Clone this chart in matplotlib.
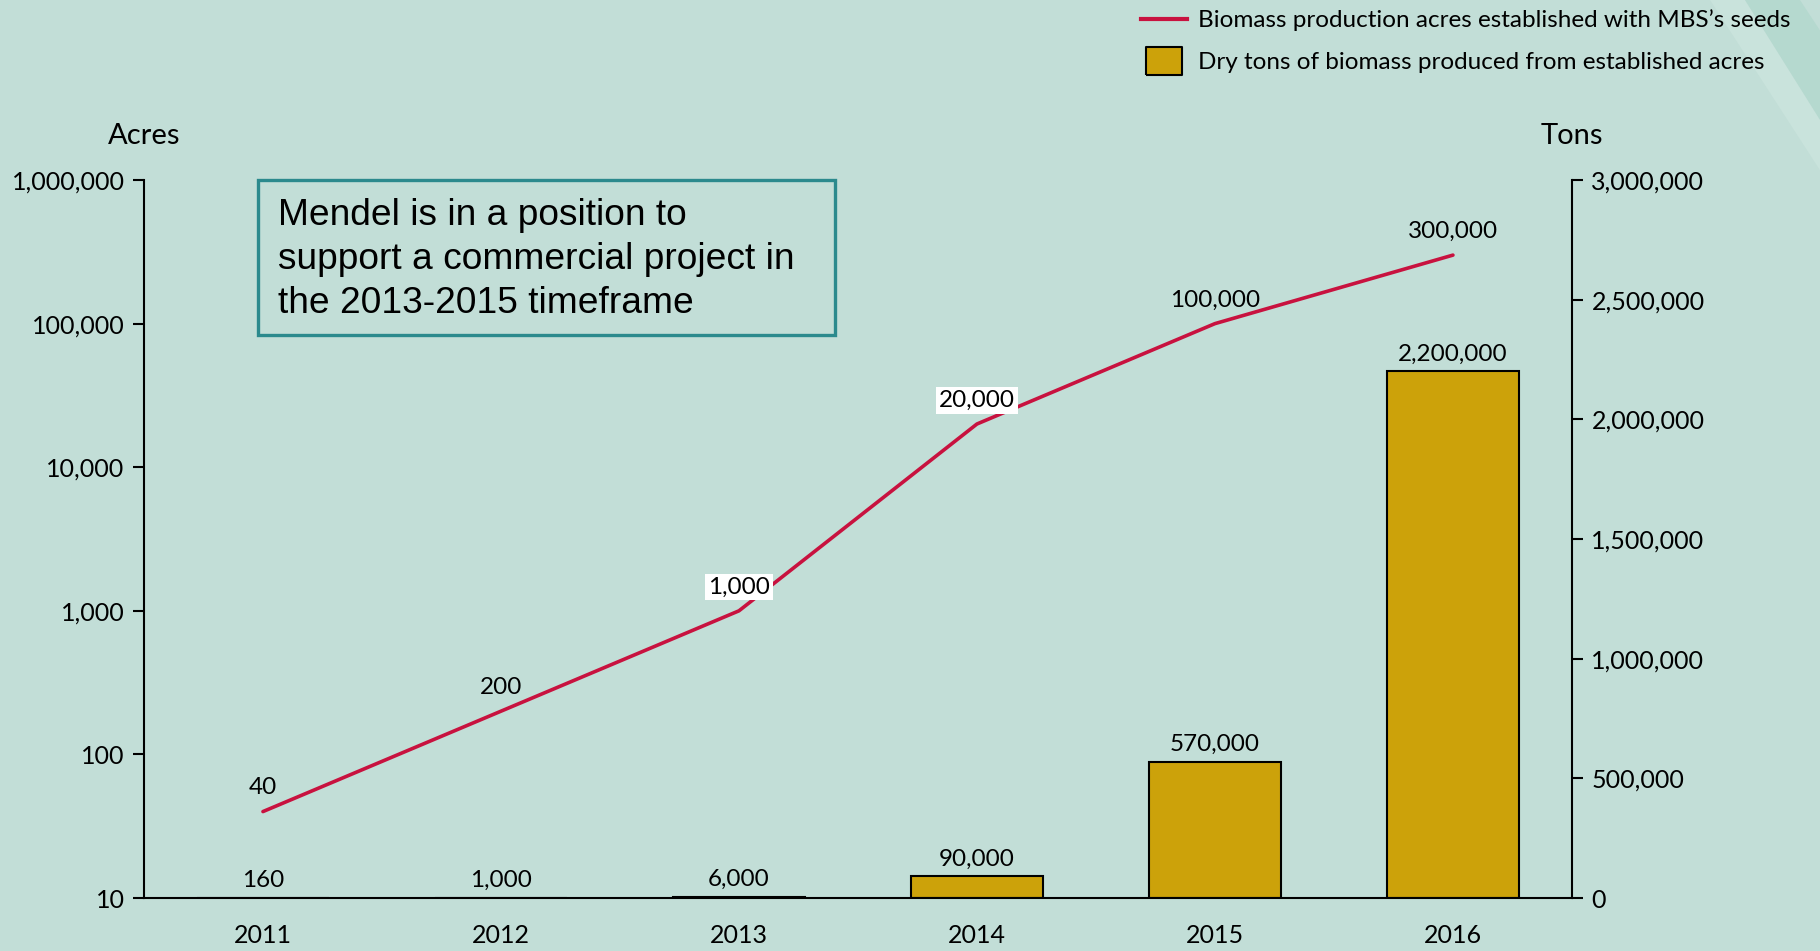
import matplotlib.pyplot as plt
from matplotlib.lines import Line2D
from matplotlib.patches import Rectangle, Polygon

# data
years = ['2011', '2012', '2013', '2014', '2015', '2016']
acres = [40, 200, 1000, 20000, 100000, 300000]
tons = [160, 1000, 6000, 90000, 570000, 2200000]
acres_boxed = [False, False, True, True, False, False]

bg = '#C2DED7'
red = '#C8123F'
gold = '#CCA20A'

plt.rcParams['font.family'] = ['Lato', 'DejaVu Sans']

fig = plt.figure(figsize=(18.2, 9.51), dpi=100, facecolor=bg)

# faint decorative bands in the corner
fig.patches.append(Polygon([(0.9396, 1.0), (0.9588, 1.0), (1.0, 0.874), (1.0, 0.821)],
                           closed=True, transform=fig.transFigure,
                           facecolor='#C9E3DC', edgecolor='none'))
fig.patches.append(Polygon([(0.9588, 1.0), (0.989, 1.0), (1.0, 0.968), (1.0, 0.874)],
                           closed=True, transform=fig.transFigure,
                           facecolor='#B5D9CF', edgecolor='none'))

ax = fig.add_axes([0.0791, 0.0557, 0.7846, 0.755])
ax.set_facecolor('none')
ax2 = ax.twinx()
ax.set_zorder(2)
ax2.set_zorder(1)

x = list(range(len(years)))

# bars: tons on right axis
ax2.bar(x, tons, width=0.555, color=gold, edgecolor='black', linewidth=1.5)
ax2.set_ylim(0, 3000000)
ax2.set_yticks(range(0, 3000001, 500000))
ax2.set_yticklabels([f'{v:,}' for v in range(0, 3000001, 500000)])
for xi, t in zip(x, tons):
    ax2.annotate(f'{t:,}', (xi, t), xytext=(0, 12.5), textcoords='offset points',
                 ha='center', va='center', fontsize=17.5)

# line: acres on left log axis
ax.plot(x, acres, color=red, linewidth=2.6, solid_capstyle='round')
ax.set_yscale('log')
ax.set_ylim(10, 1000000)
ax.set_yticks([10, 100, 1000, 10000, 100000, 1000000])
ax.set_yticklabels(['10', '100', '1,000', '10,000', '100,000', '1,000,000'])
ax.minorticks_off()
for xi, a, boxed in zip(x, acres, acres_boxed):
    bbox = dict(facecolor='white', edgecolor='none', pad=2) if boxed else None
    ax.annotate(f'{a:,}', (xi, a), xytext=(0, 17), textcoords='offset points',
                ha='center', va='center', fontsize=17.5, bbox=bbox)

ax.set_xlim(-0.5, 5.5)
ax.set_xticks(x)
ax.set_xticklabels(years)

for a in (ax, ax2):
    a.spines['top'].set_visible(False)
    for s in a.spines.values():
        s.set_linewidth(1.5)
ax.spines['right'].set_visible(False)
ax2.spines['left'].set_visible(False)
ax2.spines['bottom'].set_visible(False)

ax.tick_params(axis='y', direction='out', length=8, width=1.5, labelsize=18, pad=6)
ax.tick_params(axis='x', length=0, labelsize=18, pad=19)
ax2.tick_params(axis='y', direction='out', length=8, width=1.5, labelsize=18, pad=6)

ax.text(0, 1.062, 'Acres', transform=ax.transAxes, ha='center', va='center', fontsize=21)
ax.text(1, 1.062, 'Tons', transform=ax.transAxes, ha='center', va='center', fontsize=21)

# callout box
fig.patches.append(Rectangle((0.1418, 0.6477), 0.317, 0.163, transform=fig.transFigure,
                             facecolor='none', edgecolor='#2B8A8D', linewidth=2.4))
fig.text(0.1525, 0.727, 'Mendel is in a position to\nsupport a commercial project in\nthe 2013-2015 timeframe',
         ha='left', va='center', fontsize=26.7, family='Liberation Sans', linespacing=1.34)

# legend
box_marker = [(-1.32, -1), (1.32, -1), (1.32, 1), (-1.32, 1), (-1.32, -1)]
handles = [Line2D([], [], color=red, linewidth=3),
           Line2D([], [], marker=box_marker, linestyle='none', markersize=26.6,
                  markerfacecolor=gold, markeredgecolor='black', markeredgewidth=1.5)]
labels = ['Biomass production acres established with MBS\u2019s seeds',
          'Dry tons of biomass produced from established acres']
fig.legend(handles, labels, loc='upper left', bbox_to_anchor=(1141 / 1820, 1 - 9.5 / 951),
           frameon=False, fontsize=17.5, handlelength=1.9, handletextpad=0.45,
           labelspacing=0.85, borderpad=0, borderaxespad=0)

fig.savefig('out.png', dpi=100, facecolor=bg)
